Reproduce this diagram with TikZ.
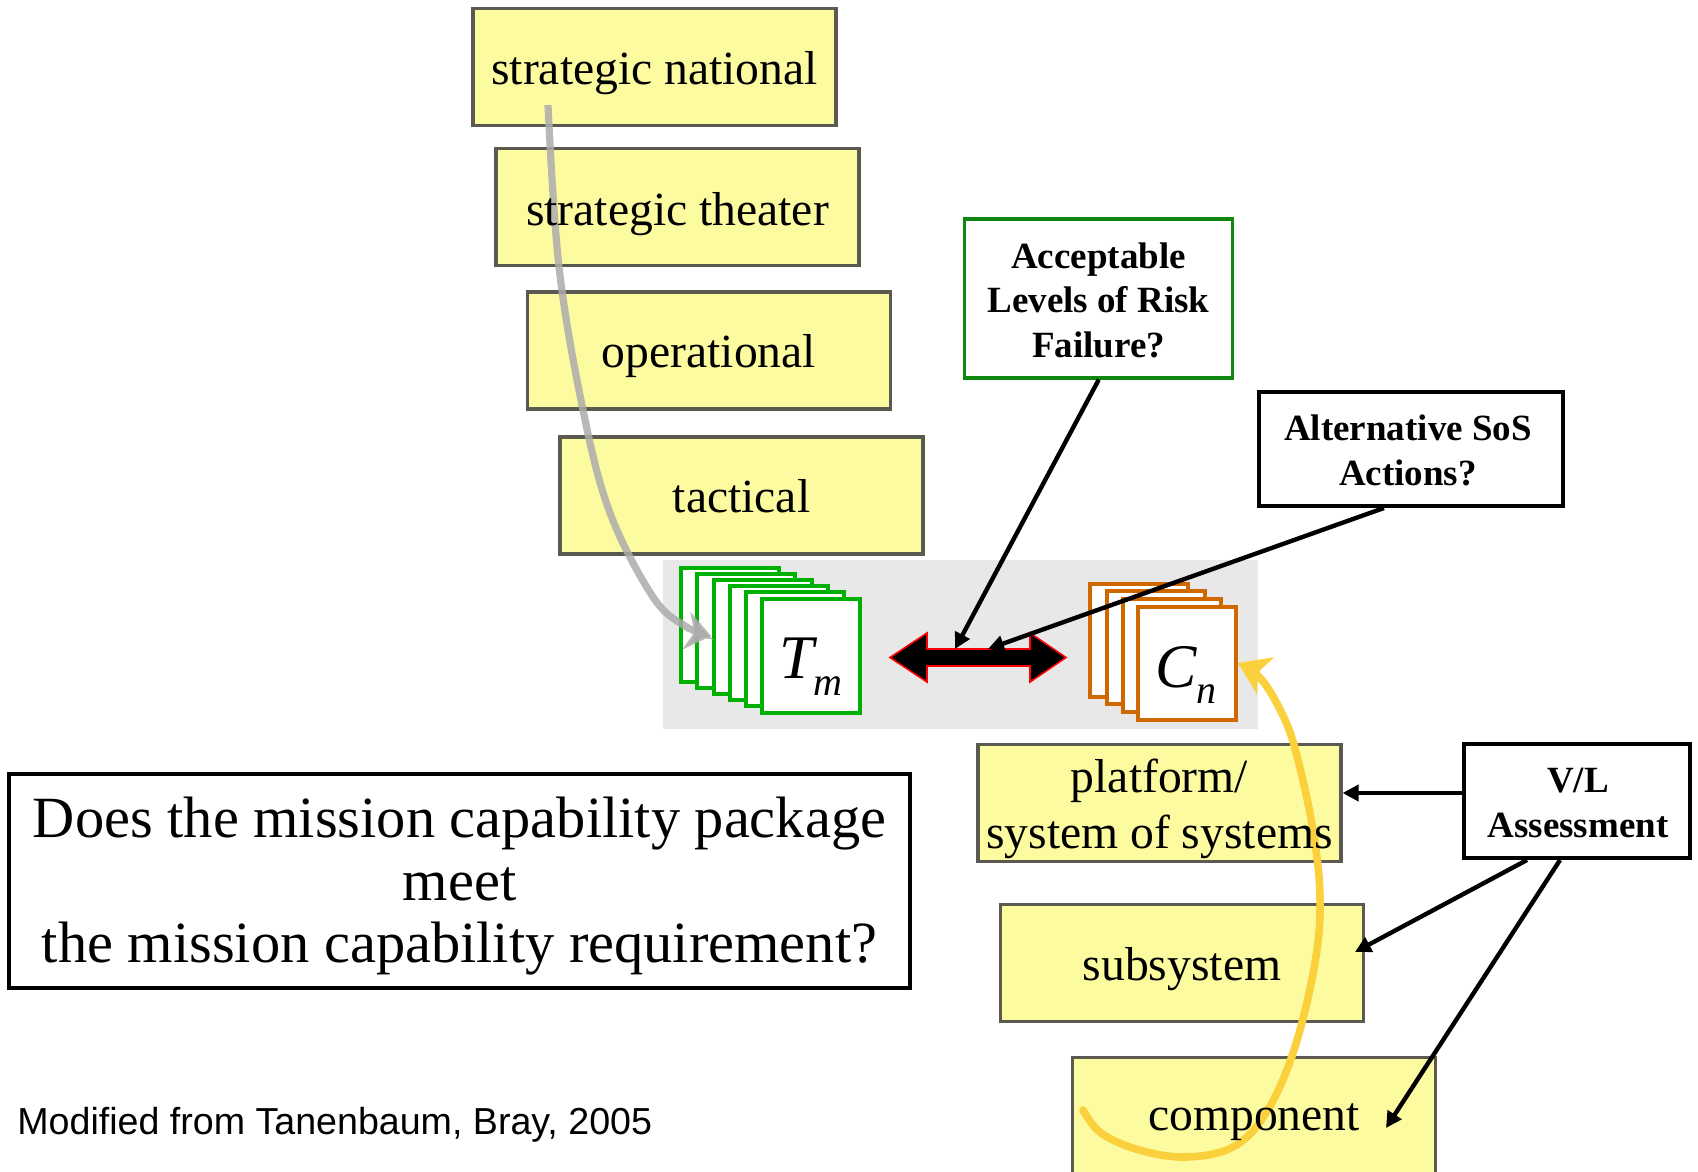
\documentclass[tikz,border=0pt]{standalone}
\usepackage{fontspec}
\setmainfont{Liberation Serif}
\newfontfamily\capfont{Liberation Sans}
\usetikzlibrary{arrows.meta}
\definecolor{yfill}{RGB}{253,251,160}
\definecolor{yedge}{RGB}{90,90,80}
\definecolor{bggray}{RGB}{232,232,232}
\definecolor{cardgreen}{RGB}{0,176,0}
\definecolor{cardorange}{RGB}{208,104,0}
\definecolor{boxgreen}{RGB}{16,136,16}
\definecolor{curvegray}{RGB}{172,172,172}
\definecolor{curveyellow}{RGB}{250,208,60}
\begin{document}
\begin{tikzpicture}[x=0.5pt, y=-0.5pt,
  ybox/.style={draw=yedge, line width=1.6pt, fill=yfill, minimum width=181.5pt, minimum height=58.5pt, inner sep=0pt},
  ytext/.style={anchor=base, inner sep=0pt, font=\fontsize{23.8}{28}\selectfont},
  gcard/.style={draw=cardgreen, fill=white, line width=1.7pt, minimum width=49pt, minimum height=57pt, inner sep=0pt},
  ocard/.style={draw=cardorange, fill=white, line width=1.7pt, minimum width=49pt, minimum height=56.5pt, inner sep=0pt},
  lbox/.style={fill=white, inner sep=0pt},
  btext/.style={anchor=base, inner sep=0pt, font=\fontsize{18.5}{22}\selectfont\bfseries},
  qtext/.style={anchor=base, inner sep=0pt, font=\fontsize{29.2}{31}\selectfont},
  conn/.style={line width=2.2pt, -{Triangle[length=8pt,width=8pt]}},
]
\useasboundingbox (0,0) rectangle (1698,1172);

% gray background panel
\fill[bggray] (663,560) rectangle (1258,729);

% yellow level boxes
\node[ybox] (sn) at (654.5,67) {};
\node[ybox] (st) at (677.5,207) {};
\node[ybox] (op) at (709,350.5) {};
\node[ybox] (ta) at (741.5,495.5) {};
\node[ybox] (pl) at (1159.5,803) {};
\node[ybox] (sub) at (1182,963) {};
\node[ybox] (comp) at (1254,1116) {};

% question boxes
\node[lbox, draw=boxgreen, line width=1.6pt, minimum width=134pt, minimum height=79.5pt] (acc) at (1098.75,298.5) {};
\node[lbox, draw=black, line width=2pt, minimum width=152.25pt, minimum height=57pt] (alt) at (1410.75,449) {};
\node[lbox, draw=black, line width=2pt, minimum width=113pt, minimum height=57pt] (vl) at (1577,801) {};
\node[lbox, draw=black, line width=1.8pt, minimum width=450.5pt, minimum height=107pt] (qbox) at (459.5,881) {};

% stacked cards T_m
\node[gcard] (t1) at (730,625) {};
\node[gcard] (t2) at (746,631) {};
\node[gcard] (t3) at (763,637) {};
\node[gcard] (t4) at (779,643) {};
\node[gcard] (t5) at (795,649) {};
\node[gcard] (t6) at (811,656) {};
% stacked cards C_n
\node[ocard] (c1) at (1139,640.5) {};
\node[ocard] (c2) at (1156,647.5) {};
\node[ocard] (c3) at (1172,655.5) {};
\node[ocard] (c4) at (1187,663.5) {};

% curved arrows
\coordinate (gs) at (548,105);
\coordinate (ge) at (711,636);
\draw[curvegray, opacity=0.85, line width=3.6pt, -{Stealth[length=12.5pt,width=19pt,inset=4pt]}]
  plot[smooth, tension=0.6] coordinates {(gs) (559,267) (583,410) (610,513) (653,597) (685,626) (ge)};
\coordinate (ys) at (1083,1110);
\coordinate (ye) at (1238,663);
\draw[curveyellow, line width=3.8pt, line cap=round, -{Stealth[length=15pt,width=20pt,inset=4pt]}]
  plot[smooth, tension=0.6] coordinates {(ys) (1101,1133) (1139,1150) (1186,1157) (1233,1147) (1266,1113) (1294,1050) (1315,963) (1320,897) (1313,830) (1298,760) (1285,720) (1262,680) (ye)};

% texts
\node[ytext] (snt) at (654.5,85) {strategic national};
\node[ytext] (stt) at (677.5,225) {strategic theater};
\node[ytext] (opt) at (709,367) {operational};
\node[ytext] (tat) at (741.5,512) {tactical};
\node[ytext] (plt1) at (1159.5,792) {platform/};
\node[ytext] (plt2) at (1159.5,848) {system of systems};
\node[ytext] (subt) at (1182,980) {subsystem};
\node[ytext] (compt) at (1254,1130) {component};

\node[btext] (acc1) at (1098.5,268) {Acceptable};
\node[btext] (acc2) at (1098.5,312) {Levels of Risk};
\node[btext] (acc3) at (1098.5,357) {Failure?};
\node[btext] (alt1) at (1408,440) {Alternative SoS};
\node[btext] (alt2) at (1408,485) {Actions?};
\node[btext] (vl1) at (1578,792) {V/L};
\node[btext] (vl2) at (1578,837) {Assessment};

\node[qtext] (q1) at (459.5,837) {Does the mission capability package};
\node[qtext] (q2) at (459.5,900) {meet};
\node[qtext] (q3) at (459.5,962) {the mission capability requirement?};

\node[anchor=base west, inner sep=0pt, font=\capfont\fontsize{18.8}{21}\selectfont] (cap) at (17,1134) {Modified from Tanenbaum, Bray, 2005};

\node[anchor=base west, inner sep=0pt, font=\fontsize{31}{31}\selectfont\itshape] (tm) at (779,678) {T\raisebox{-8.5pt}{\fontsize{20}{20}\selectfont m}};
\node[anchor=base west, inner sep=0pt, font=\fontsize{31}{31}\selectfont\itshape] (cn) at (1155,687) {C\raisebox{-8pt}{\fontsize{20}{20}\selectfont n}};

% double arrow between T_m and C_n
\draw[fill=black, draw=red, line width=0.8pt] (890,657.5) -- (927,633) -- (927,649) -- (1030,649) -- (1030,633) -- (1066,657.5) -- (1030,682) -- (1030,666) -- (927,666) -- (927,682) -- cycle;
\coordinate (dA) at (955,649);
\coordinate (dB) at (988,649);
\coordinate (subTip) at (1355,952);
\coordinate (compTip) at (1386,1128);

% connectors
\draw[conn] (acc.south) -- (dA);
\draw[conn] ([xshift=-13.4pt]alt.south) -- (dB);
\draw[conn] ([yshift=4pt]vl.west) -- ([yshift=5pt]pl.east);
\draw[conn] ([xshift=-25pt]vl.south) -- (subTip);
\draw[conn] ([xshift=-8.5pt]vl.south) -- (compTip);
\end{tikzpicture}
\end{document}
